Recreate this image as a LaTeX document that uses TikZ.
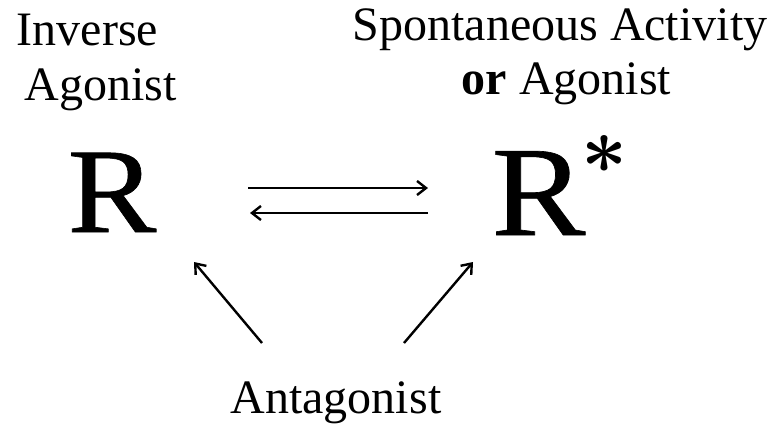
\documentclass[tikz,border=0pt]{standalone}
\usepackage{fontspec}
\setmainfont{Liberation Serif}
\newfontfamily\Rfont[FakeBold=0.5]{Liberation Serif}
\newfontfamily\lmfont{lmroman10-bold.otf}
\usetikzlibrary{arrows.meta}
\begin{document}
\begin{tikzpicture}[x=1pt,y=-1pt,
  lbl/.style={inner sep=0pt,anchor=base,font=\fontsize{48}{55}\selectfont},
  conn/.style={line width=2.4pt,-{Straight Barb[length=9pt,width=14pt,line width=2.4pt]}}]
\useasboundingbox (0,0) rectangle (771,426);
\node[lbl] (inv) at (87.5,45) {Inverse};
\node[lbl] (ag1) at (101,100) {Agonist};
\node[lbl] (spa) at (560,40) {Spontaneous Activity};
\node[lbl] (ag2) at (566.5,94) {\textbf{or} Agonist};
\node[lbl] (ant) at (336,413) {Antagonist};
\node[inner sep=0pt,anchor=base,font=\Rfont\fontsize{121}{121}\selectfont] (R) at (112,232) {\scalebox{1.1}[1]{R}};
\node[inner sep=0pt,anchor=base,font=\Rfont\fontsize{128}{128}\selectfont] (Rs) at (538.5,235) {\scalebox{1.1}[1]{R}};
\node[inner sep=0pt,anchor=base,font=\lmfont\fontsize{80}{80}\selectfont] (ast) at (604.5,195) {*};
\coordinate (f1) at (248,188);
\coordinate (f2) at (428,188);
\coordinate (b1) at (428,213);
\coordinate (b2) at (250,213);
\coordinate (l1) at (262,343);
\coordinate (l2) at (194,262);
\coordinate (r1) at (404,343);
\coordinate (r2) at (473,262);
\draw[conn] (f1) -- (f2);
\draw[conn] (b1) -- (b2);
\draw[conn] (l1) -- (l2);
\draw[conn] (r1) -- (r2);
\end{tikzpicture}
\end{document}
